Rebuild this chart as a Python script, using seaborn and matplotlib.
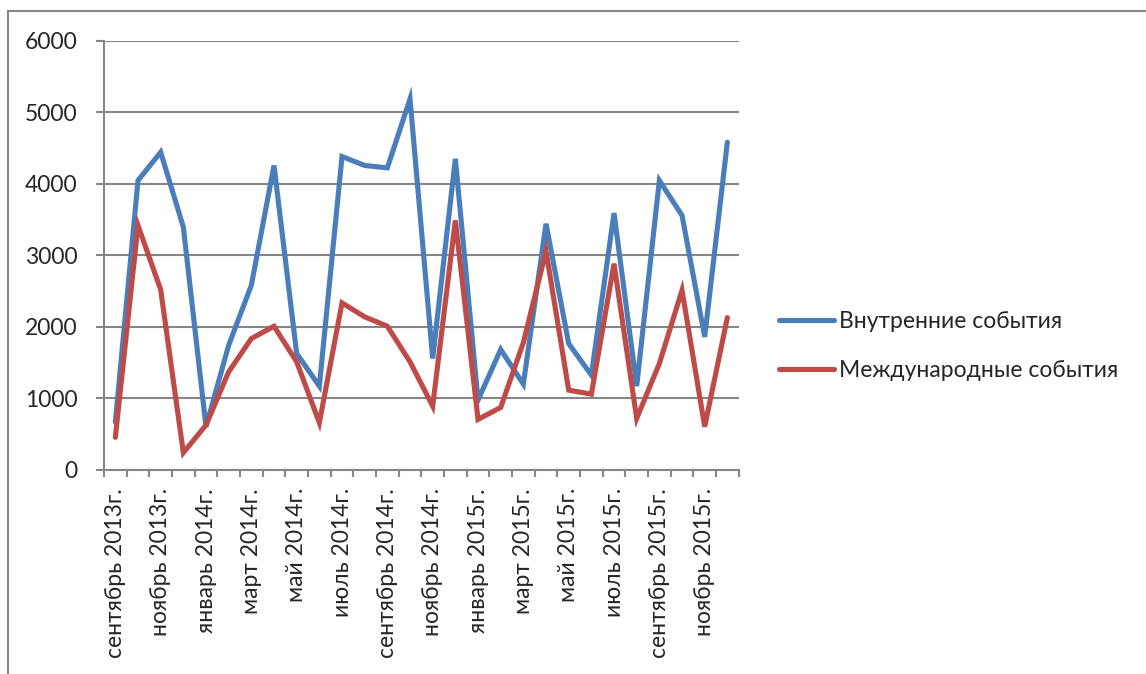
import matplotlib
matplotlib.use("Agg")
import matplotlib.pyplot as plt
import seaborn as sns
import pandas as pd
from matplotlib.patches import Rectangle

sns.set_style("white")
plt.rcParams['font.family'] = ['Lato', 'DejaVu Sans']

# months from September 2013 to December 2015
months = ['сентябрь 2013г.', 'октябрь 2013г.', 'ноябрь 2013г.', 'декабрь 2013г.',
          'январь 2014г.', 'февраль 2014г.', 'март 2014г.', 'апрель 2014г.',
          'май 2014г.', 'июнь 2014г.', 'июль 2014г.', 'август 2014г.',
          'сентябрь 2014г.', 'октябрь 2014г.', 'ноябрь 2014г.', 'декабрь 2014г.',
          'январь 2015г.', 'февраль 2015г.', 'март 2015г.', 'апрель 2015г.',
          'май 2015г.', 'июнь 2015г.', 'июль 2015г.', 'август 2015г.',
          'сентябрь 2015г.', 'октябрь 2015г.', 'ноябрь 2015г.', 'декабрь 2015г.']

domestic = [670, 4046, 4442, 3395, 605, 1744, 2581, 4256, 1628, 1172,
            4381, 4256, 4223, 5186, 1558, 4349, 977, 1684, 1200, 3442,
            1767, 1326, 3591, 1172, 4046, 3558, 1860, 4581]
international = [456, 3418, 2521, 242, 628, 1372, 1837, 2009, 1512, 661,
                 2335, 2140, 2009, 1512, 893, 3488, 707, 874, 1780, 3060,
                 1116, 1060, 2884, 721, 1488, 2512, 605, 2130]

series_names = ['Внутренние события', 'Международные события']
colors = ['#4A7EBB', '#BE4B48']

df = pd.DataFrame({'idx': list(range(len(months))) * 2,
                   'value': domestic + international,
                   'series': [series_names[0]] * len(months) + [series_names[1]] * len(months)})

fig = plt.figure(figsize=(11.46, 6.74), dpi=100)
ax = fig.add_axes([104 / 1146, 1 - 470 / 674, 634.7 / 1146, 429.3 / 674])

sns.lineplot(data=df, x='idx', y='value', hue='series', palette=colors,
             linewidth=3.7, ax=ax, legend=True)
for ln in ax.get_lines():
    ln.set_solid_capstyle('round')
    ln.set_solid_joinstyle('miter')

grey = '#868686'
fs = 16.5
ax.set_xlim(-0.5, len(months) - 0.5)
ax.set_ylim(0, 6000)
ax.set_yticks(range(0, 6001, 1000))
ax.yaxis.grid(True, color=grey, linewidth=1.5)
ax.set_axisbelow(True)
ax.set_xlabel('')
ax.set_ylabel('')

# category boundaries as ticks, labels every second month
ax.set_xticks([i - 0.5 for i in range(len(months) + 1)])
ax.set_xticklabels([])
ax.set_xticks(range(0, len(months), 2), minor=True)
ax.set_xticklabels(months[::2], minor=True, rotation=90, va='top', ha='center')
ax.tick_params(axis='x', which='major', length=5, width=1.5, color=grey, direction='out', bottom=True)
ax.tick_params(axis='x', which='minor', length=0, pad=13, labelsize=fs)
ax.tick_params(axis='y', length=6, width=1.5, color=grey, direction='out', left=True, pad=13, labelsize=fs)

for side in ['top', 'right']:
    ax.spines[side].set_visible(False)
for side in ['left', 'bottom']:
    ax.spines[side].set_color(grey)
    ax.spines[side].set_linewidth(1.5)

leg = ax.legend(loc='center left', bbox_to_anchor=(758 / 1146, 1 - 346 / 674),
                bbox_transform=fig.transFigure, frameon=False, fontsize=fs,
                handlelength=2.4, handletextpad=0.25, labelspacing=1.2)
for h in leg.get_lines():
    h.set_linewidth(3.7)
    h.set_solid_capstyle('round')

# outer chart frame (only top and left edges visible)
fig.patches.append(Rectangle((8 / 1146, -0.1), 1.2, 1 - 11 / 674 + 0.1,
                             transform=fig.transFigure, fill=False,
                             edgecolor=grey, linewidth=1.5))

fig.savefig('out.png', dpi=100)
